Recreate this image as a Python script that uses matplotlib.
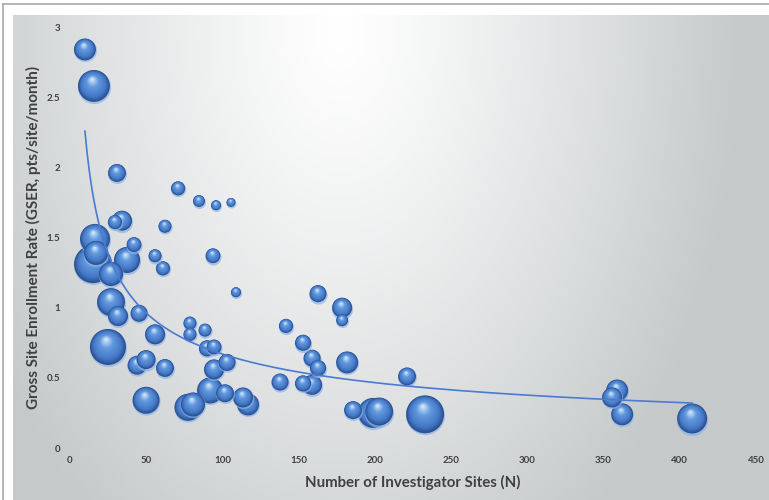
import matplotlib
matplotlib.use("Agg")
import matplotlib.pyplot as plt
import numpy as np
from matplotlib.lines import Line2D

# Number of investigator sites (N) per trial
sites = [9.8, 15.7, 30.8, 70.9, 84.6, 95.8, 105.6, 29.5, 34.1, 62.3,
         16.4, 42.0, 15.1, 17.1, 37.4, 55.8, 93.8, 61.0, 26.9, 108.9,
         26.9, 31.5, 45.3, 55.8, 24.9, 78.7, 78.7, 88.6, 89.9, 94.5,
         44.0, 49.9, 62.3, 94.5, 103.0, 49.9, 77.4, 80.7, 91.9, 101.7,
         113.5, 116.8, 162.7, 178.5, 178.5, 141.7, 152.9, 158.8, 162.7, 181.8,
         137.8, 152.9, 158.8, 221.1, 185.7, 198.8, 202.8, 232.9, 355.6, 358.9,
         362.2, 408.1]

# Gross site enrollment rate (pts/site/month)
gser = [2.84, 2.58, 1.96, 1.85, 1.76, 1.73, 1.75, 1.61, 1.62, 1.58,
        1.49, 1.45, 1.31, 1.39, 1.34, 1.37, 1.37, 1.28, 1.24, 1.11,
        1.04, 0.94, 0.96, 0.81, 0.72, 0.89, 0.81, 0.84, 0.71, 0.72,
        0.59, 0.63, 0.57, 0.56, 0.61, 0.34, 0.29, 0.31, 0.41, 0.39,
        0.36, 0.31, 1.10, 1.00, 0.91, 0.87, 0.75, 0.64, 0.57, 0.61,
        0.47, 0.46, 0.45, 0.51, 0.27, 0.25, 0.26, 0.24, 0.36, 0.41,
        0.24, 0.21]

# bubble size values (area based)
bubble_size = [48, 102, 32, 20, 14, 10, 8, 20, 40, 17,
               90, 22, 144, 58, 68, 17, 22, 20, 58, 10,
               78, 40, 29, 40, 130, 17, 17, 17, 26, 22,
               36, 36, 32, 40, 29, 73, 73, 58, 68, 32,
               40, 48, 29, 40, 14, 20, 26, 29, 26, 48,
               29, 26, 40, 32, 32, 90, 78, 144, 40, 48,
               48, 90]

x_ticks = [0, 50, 100, 150, 200, 250, 300, 350, 400, 450]
y_ticks = [0, 0.5, 1, 1.5, 2, 2.5, 3]
y_tick_labels = ["0", "0.5", "1", "1.5", "2", "2.5", "3"]

W, H, DPI = 769, 500, 100
TEXT = "#404040"
FONT = "Lato"


def background(width, height):
    yy, xx = np.mgrid[0:height, 0:width]
    dx = (xx + 13 - 340) / 400.0
    dy = (yy + 15 - 30) / 620.0
    t = np.clip(np.sqrt(dx ** 2 + dy ** 2), 0, 1) ** 1.2
    top = np.array([1.0, 1.0, 1.0])
    low = np.array([0.775, 0.79, 0.795])
    return top * (1 - t[..., None]) + low * t[..., None]


def sphere_colors(t):
    stops_t = [0.0, 0.2, 0.6, 0.92]
    stops_c = np.array([[0.17, 0.32, 0.57],
                        [0.27, 0.47, 0.78],
                        [0.38, 0.60, 0.87],
                        [0.80, 0.89, 0.98]])
    return np.column_stack([np.interp(t, stops_t, stops_c[:, i]) for i in range(3)])


def draw_bubble(ax, cx, cy, radius, layers=16):
    # cx, cy, radius in display pixels
    f = 1 - np.linspace(0, 0.92, layers)
    t = 1 - f
    ox = cx + t * radius * -0.12
    oy = cy + t * radius * 0.45
    centers = ax.transData.inverted().transform(np.column_stack([ox, oy]))
    sizes = (2 * radius * f * 72 / DPI) ** 2
    # light rim at the bottom
    rim = ax.transData.inverted().transform([[cx, cy - 1.0]])
    ax.scatter(rim[:, 0], rim[:, 1], s=(2 * (radius + 0.6) * 72 / DPI) ** 2,
               color="#8db3e8", alpha=0.7, linewidths=0, zorder=2, clip_on=False)
    ax.scatter(centers[:, 0], centers[:, 1], s=sizes, c=sphere_colors(t),
               linewidths=0, zorder=2, clip_on=False)


def main():
    fig = plt.figure(figsize=(W / DPI, H / DPI), dpi=DPI)
    fig.patch.set_facecolor("white")

    # outer frame lines
    fig.add_artist(Line2D([3 / W, 1], [1 - 4 / H, 1 - 4 / H], color="#a8a8a8", lw=1.2))
    fig.add_artist(Line2D([3 / W, 3 / W], [0, 1 - 4 / H], color="#a8a8a8", lw=1.2))

    # gradient panel
    pw, ph = W - 13, H - 15
    bg = fig.add_axes([13 / W, 0, pw / W, ph / H])
    bg.imshow(background(pw, ph), aspect="auto", interpolation="bilinear")
    bg.set_axis_off()

    ax = fig.add_axes([70 / W, 52 / H, 686 / W, 421 / H])
    ax.patch.set_alpha(0)
    ax.set_xlim(0, 450)
    ax.set_ylim(0, 3)
    for spine in ax.spines.values():
        spine.set_visible(False)
    ax.set_xticks(x_ticks)
    ax.set_xticklabels([str(v) for v in x_ticks])
    ax.set_yticks(y_ticks)
    ax.set_yticklabels(y_tick_labels)
    ax.tick_params(length=0, labelsize=7, labelcolor=TEXT)
    ax.tick_params(axis="x", pad=6)
    ax.tick_params(axis="y", pad=7)
    for lab in ax.get_xticklabels() + ax.get_yticklabels():
        lab.set_fontfamily(FONT)
        lab.set_fontweight("bold")

    ax.set_xlabel("Number of Investigator Sites (N)", fontsize=10.8, fontfamily=FONT,
                  fontweight="bold", color=TEXT, labelpad=7)
    ax.set_ylabel("Gross Site Enrollment Rate (GSER, pts/site/month)", fontsize=11,
                  fontfamily=FONT, fontweight="bold", color=TEXT, labelpad=4)

    x = np.array(sites)
    y = np.array(gser)
    size = np.array(bubble_size, dtype=float)

    centers = ax.transData.transform(np.column_stack([x, y]))
    radii = 1.58 * np.sqrt(size)
    for i in np.argsort(-size, kind="stable"):
        draw_bubble(ax, centers[i, 0], centers[i, 1], radii[i])

    # power trendline fitted in log-log space
    b, a = np.polyfit(np.log(x), np.log(y), 1)
    xs = np.linspace(x.min(), x.max(), 300)
    ax.plot(xs, np.exp(a) * xs ** b, color="#4a7bd0", lw=1.2, zorder=3)

    fig.savefig("out.png", dpi=DPI)


if __name__ == "__main__":
    main()
